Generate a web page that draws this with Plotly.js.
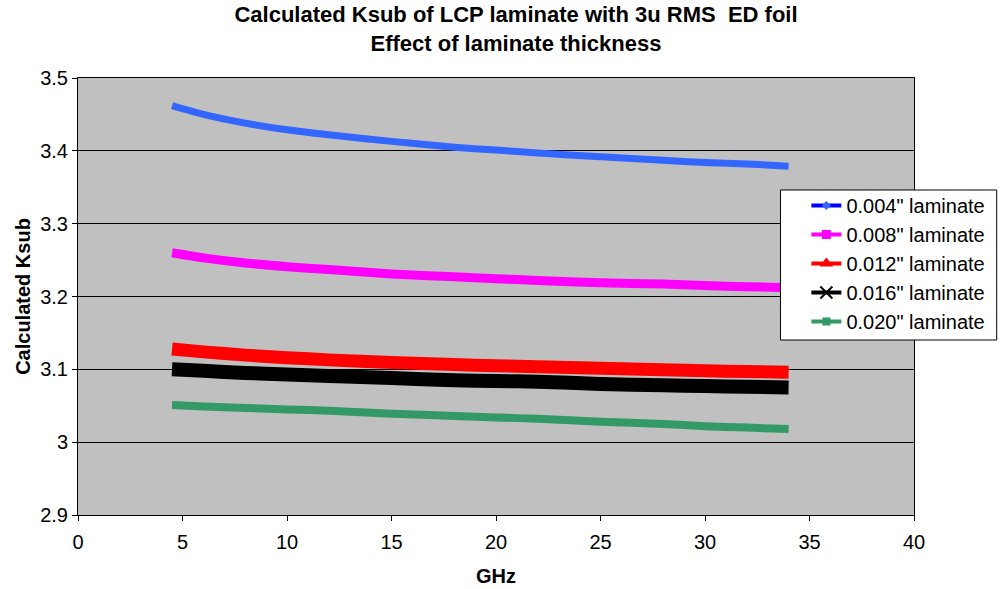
<!DOCTYPE html>
<html>
<head>
<meta charset="utf-8">
<script src="https://cdn.plot.ly/plotly-3.0.1.min.js"></script>
<style>body{margin:0;padding:0;background:#fff;}#chart{width:1002px;height:589px;}</style>
</head>
<body>
<div id="chart"></div>
<script>
const freq = [4.5, 6, 8, 10, 12, 15, 18, 20, 22, 25, 28, 30, 32, 34];
const seriesNames = ['0.004" laminate', '0.008" laminate', '0.012" laminate', '0.016" laminate', '0.020" laminate'];
const ksub004 = [3.462, 3.450, 3.438, 3.429, 3.422, 3.413, 3.405, 3.401, 3.397, 3.392, 3.387, 3.384, 3.382, 3.379];
const ksub008 = [3.260, 3.253, 3.246, 3.241, 3.237, 3.231, 3.227, 3.2245, 3.222, 3.219, 3.217, 3.215, 3.2135, 3.212];
const ksub012 = [3.128, 3.124, 3.1195, 3.116, 3.113, 3.1095, 3.1065, 3.105, 3.1035, 3.1015, 3.0995, 3.098, 3.097, 3.096];
const ksub016 = [3.100, 3.098, 3.095, 3.093, 3.091, 3.088, 3.085, 3.084, 3.083, 3.080, 3.078, 3.077, 3.076, 3.075];
const ksub020 = [3.051, 3.049, 3.047, 3.045, 3.043, 3.039, 3.036, 3.034, 3.032, 3.028, 3.025, 3.022, 3.020, 3.018];
const xTicks = [0, 5, 10, 15, 20, 25, 30, 35, 40];
const yTicks = [2.9, 3, 3.1, 3.2, 3.3, 3.4, 3.5];
const yTickText = ['2.9', '3', '3.1', '3.2', '3.3', '3.4', '3.5'];

const allY = [ksub004, ksub008, ksub012, ksub016, ksub020];
const plotColors = ['#3366FF', '#FF00FF', '#FF0000', '#000000', '#339966'];
const plotWidths = [7, 9, 13, 14, 8];
const legColors = ['#0000FF', '#FF00FF', '#FF0000', '#000000', '#339966'];
const legMarkColors = ['#3366FF', '#FF00FF', '#FF0000', '#000000', '#339966'];
const legSymbols = ['diamond', 'square', 'triangle-up', 'x-thin-open', 'square'];
const legSizes = [7, 9, 12, 12, 8];

const FONT = 'Arial, "Liberation Sans", sans-serif';
const traces = [];
allY.forEach((ys, i) => {
  traces.push({
    x: freq, y: ys, type: 'scatter', mode: 'lines',
    line: {color: plotColors[i], width: plotWidths[i], shape: 'spline', smoothing: 0.6},
    showlegend: false, hoverinfo: 'skip'
  });
});
allY.forEach((ys, i) => {
  traces.push({
    x: [null], y: [null], type: 'scatter', mode: 'lines+markers',
    name: seriesNames[i], legendgroup: 'g' + i,
    line: {color: legColors[i], width: 4},
    marker: {color: legMarkColors[i], symbol: legSymbols[i], size: legSizes[i],
             line: {color: legMarkColors[i], width: legSymbols[i].startsWith('x') ? 2 : 0}}
  });
});

const layout = {
  width: 1002, height: 589,
  margin: {l: 78, r: 85, t: 78, b: 74},
  paper_bgcolor: '#FFFFFF',
  plot_bgcolor: '#C0C0C0',
  font: {family: FONT, size: 20, color: '#000'},
  title: {
    text: '<b>Calculated Ksub of LCP laminate with 3u RMS  ED foil<br>Effect of laminate thickness</b>',
    font: {family: FONT, size: 22, color: '#000'},
    x: 516 / 1002, xref: 'container', xanchor: 'center', y: 0.962, yanchor: 'top'
  },
  xaxis: {
    range: [0, 40], tickvals: xTicks, ticktext: xTicks.map(String),
    showgrid: false, zeroline: false,
    showline: true, linecolor: '#000', linewidth: 1, mirror: true,
    ticks: 'outside', ticklen: 5, tickcolor: '#000', ticklabelstandoff: 4,
    tickfont: {family: FONT, size: 20, color: '#000'},
    title: {text: '<b>GHz</b>', font: {family: FONT, size: 20, color: '#000'}, standoff: 16}
  },
  yaxis: {
    range: [2.9, 3.5], tickvals: yTicks, ticktext: yTickText,
    showgrid: true, gridcolor: '#000', gridwidth: 1, zeroline: false,
    showline: true, linecolor: '#000', linewidth: 1, mirror: true,
    ticks: 'outside', ticklen: 5, tickcolor: '#000',
    tickfont: {family: FONT, size: 20, color: '#000'},
    title: {text: '<b>Calculated Ksub</b>', font: {family: FONT, size: 20, color: '#000'}, standoff: 4}
  },
  shapes: [{
    type: 'rect', xref: 'paper', yref: 'paper', layer: 'above',
    x0: (783 - 78) / 839, x1: (1000 - 78) / 839,
    y0: (515 - 340) / 437, y1: (515 - 190) / 437,
    fillcolor: '#FFFFFF', line: {color: '#000', width: 1}
  }],
  legend: {
    x: (809 - 78) / 839, xanchor: 'left',
    y: (515 - 186) / 437, yanchor: 'top',
    bgcolor: 'rgba(0,0,0,0)', borderwidth: 0,
    font: {family: FONT, size: 20, color: '#000'},
    tracegroupgap: 4, traceorder: 'normal'
  },
  showlegend: true
};

Plotly.newPlot('chart', traces, layout, {staticPlot: true, displayModeBar: false});
</script>
</body>
</html>
